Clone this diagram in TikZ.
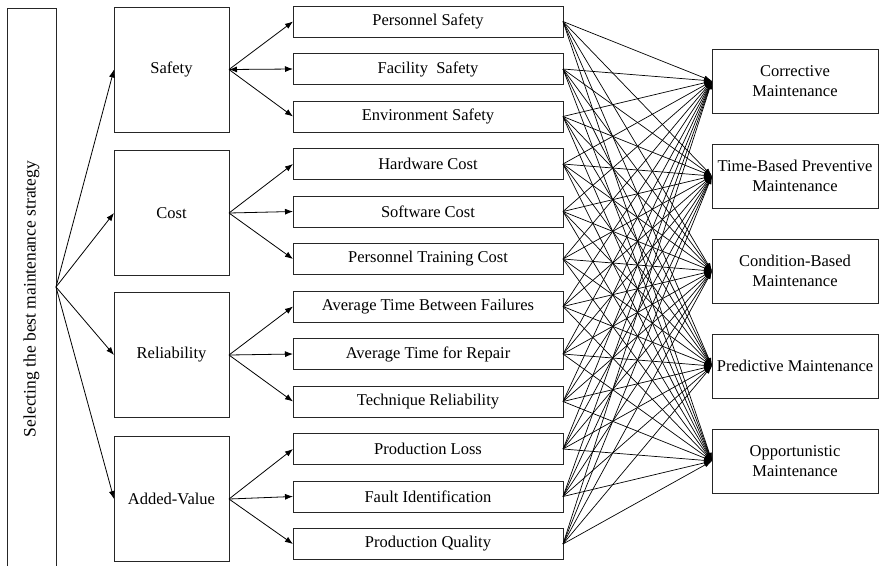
\documentclass[tikz,border=0pt]{standalone}
\usepackage{fontspec}
\setmainfont{Liberation Serif}
\usetikzlibrary{arrows.meta}

\begin{document}
\begin{tikzpicture}[x=1pt,y=-1pt,
  font=\fontsize{16.5}{20}\selectfont,
  box/.style={draw=black!85, line width=0.9pt, inner sep=0pt, outer sep=0pt, align=center},
  critbox/.style={box, minimum width=115pt, minimum height=125pt},
  subbox/.style={box, minimum width=270pt, minimum height=31pt},
  altbox/.style={box, minimum width=166pt, minimum height=64pt},
  link/.style={line width=0.8pt, -{Latex[length=8pt,width=6pt]}},
  fan/.style={line width=0.7pt, -{Latex[length=8pt,width=5pt]}}
]
\useasboundingbox (0,0) rectangle (880,566);

% goal column (open at the bottom)
\node[inner sep=0pt, outer sep=0pt, minimum width=49pt, minimum height=558pt] (goal) at (31.5,287) {};
\draw[line width=0.9pt, black!85] (goal.south west) |- (goal.north east) -- (goal.south east);
\node[rotate=90, font=\fontsize{17.5}{20}\selectfont] (goaltext) at (31.5,299) {Selecting the best maintenance strategy};

% criteria
\node[critbox] (safety) at (171.5,69.5) {Safety};
\node[critbox] (cost)   at (171.5,213) {Cost};
\node[critbox] (rel)    at (171.5,355) {Reliability};
\node[critbox] (added)  at (171.5,499) {Added-Value};

% sub-criteria
\foreach \i/\t in {0/Personnel Safety, 1/Facility\ \ Safety, 2/Environment Safety,
                   3/Hardware Cost, 4/Software Cost, 5/Personnel Training Cost,
                   6/Average Time Between Failures, 7/Average Time for Repair, 8/Technique Reliability,
                   9/Production Loss, 10/Fault Identification, 11/Production Quality}
  \node[subbox] (s\i) at (428,21.5+47.5*\i) {\t};

% alternatives
\node[altbox] (a0) at (795,81)  {Corrective\\Maintenance};
\node[altbox] (a1) at (795,176) {Time-Based Preventive\\Maintenance};
\node[altbox] (a2) at (795,271) {Condition-Based\\Maintenance};
\node[altbox] (a3) at (795,366) {Predictive Maintenance};
\node[altbox] (a4) at (795,461) {Opportunistic\\Maintenance};

% goal to criteria
\foreach \c in {safety,cost,rel,added}
  \draw[link] (goal.east) -- (\c.west);

% criteria to sub-criteria
\draw[link] (safety.east) -- (s0.west);
\draw[link, {Latex[length=8pt,width=6pt]}-{Latex[length=8pt,width=6pt]}] (safety.east) -- (s1.west);
\draw[link] (safety.east) -- (s2.west);
\draw[link] (cost.east) -- (s3.west);
\draw[link] (cost.east) -- (s4.west);
\draw[link] (cost.east) -- (s5.west);
\draw[link] (rel.east) -- (s6.west);
\draw[link] (rel.east) -- (s7.west);
\draw[link] (rel.east) -- (s8.west);
\draw[link] (added.east) -- (s9.west);
\draw[link] (added.east) -- (s10.west);
\draw[link] (added.east) -- (s11.west);

% every sub-criterion to every alternative
\foreach \i in {0,...,11}
  \foreach \j in {0,...,4}
    \draw[fan] (s\i.east) -- (a\j.west);
\end{tikzpicture}
\end{document}
